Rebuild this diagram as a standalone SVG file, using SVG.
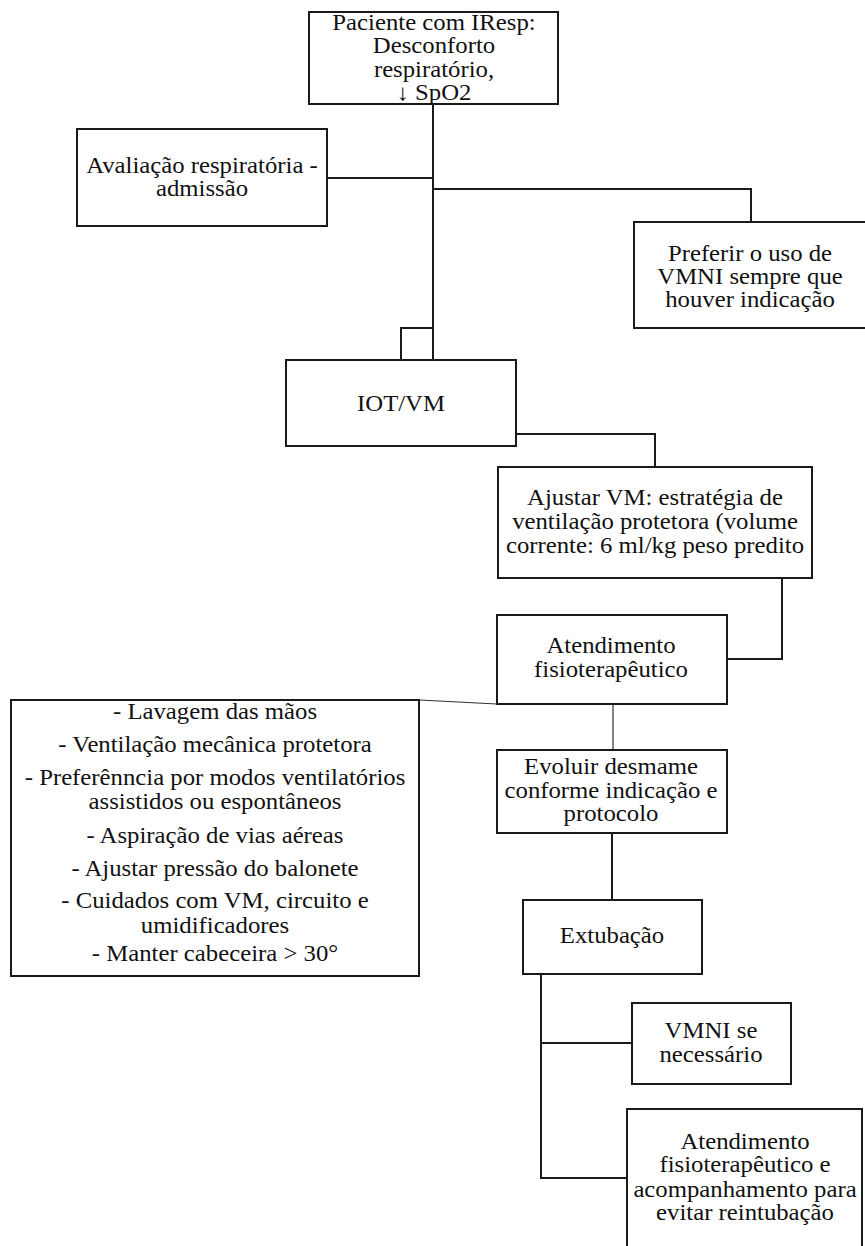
<svg xmlns="http://www.w3.org/2000/svg" width="865" height="1246" viewBox="0 0 865 1246">
<style>
.box{fill:#fff;stroke:#1a1a1a;stroke-width:2}
.ln{fill:none;stroke:#1a1a1a;stroke-width:2}
.thin{fill:none;stroke:#333;stroke-width:1.2}
.t{font-family:'Liberation Serif','Times New Roman',serif;font-size:22.5px;fill:#111;text-anchor:middle}
</style>
<rect width="865" height="1246" fill="#fff"/>
<g id="connectors">
<polyline class="ln" points="433,104 433,360"/>
<polyline class="ln" points="433,328 401,328 401,360"/>
<polyline class="ln" points="327,178 433,178"/>
<polyline class="ln" points="433,189 751,189 751,222"/>
<polyline class="ln" points="516,434 655,434 655,467"/>
<polyline class="ln" points="782,578 782,659 727,659"/>
<line class="thin" x1="419" y1="700" x2="497" y2="704"/>
<line class="thin" x1="613" y1="704" x2="613" y2="750"/>
<line class="ln" x1="612" y1="833" x2="612" y2="900"/>
<polyline class="ln" points="541,974 541,1178 627,1178"/>
<line class="ln" x1="541" y1="1043" x2="632" y2="1043"/>
</g>
<g id="n1">
<rect class="box" x="309" y="12" width="249" height="92"/>
<text class="t" transform="translate(434 0) scale(1.1 1)"><tspan x="0" y="30">Paciente com IResp:</tspan><tspan x="0" y="53">Desconforto</tspan><tspan x="0" y="77">respiratório,</tspan><tspan x="0" y="100">↓ SpO2</tspan></text>
</g>
<g id="n2">
<rect class="box" x="77" y="129" width="250" height="97"/>
<text class="t" transform="translate(202 0) scale(1.1 1)"><tspan x="0" y="173">Avaliação respiratória -</tspan><tspan x="0" y="196">admissão</tspan></text>
</g>
<g id="n3">
<rect class="box" x="634" y="222" width="236" height="106"/>
<text class="t" transform="translate(750 0) scale(1.1 1)"><tspan x="0" y="261">Preferir  o uso de</tspan><tspan x="0" y="284">VMNI sempre que</tspan><tspan x="0" y="307">houver indicação</tspan></text>
</g>
<g id="n4">
<rect class="box" x="286" y="360" width="230" height="86"/>
<text class="t" transform="translate(401 0) scale(1.1 1)"><tspan x="0" y="411">IOT/VM</tspan></text>
</g>
<g id="n5">
<rect class="box" x="498" y="467" width="314" height="111"/>
<text class="t" transform="translate(655 0) scale(1.1 1)"><tspan x="0" y="505">Ajustar VM: estratégia de</tspan><tspan x="0" y="529">ventilação protetora (volume</tspan><tspan x="0" y="553">corrente: 6 ml/kg peso predito</tspan></text>
</g>
<g id="n6">
<rect class="box" x="497" y="615" width="230" height="89"/>
<text class="t" transform="translate(611 0) scale(1.1 1)"><tspan x="0" y="653">Atendimento</tspan><tspan x="0" y="677">fisioterapêutico</tspan></text>
</g>
<g id="n7">
<rect class="box" x="11" y="700" width="408" height="276"/>
<text class="t" transform="translate(215 0) scale(1.1 1)"><tspan x="0" y="719">- Lavagem das mãos</tspan><tspan x="0" y="752">- Ventilação mecânica protetora</tspan><tspan x="0" y="785">- Preferênncia por modos ventilatórios</tspan><tspan x="0" y="809">assistidos ou espontâneos</tspan><tspan x="0" y="843">- Aspiração de vias aéreas</tspan><tspan x="0" y="876">- Ajustar pressão do balonete</tspan><tspan x="0" y="908">- Cuidados com VM, circuito e</tspan><tspan x="0" y="933">umidificadores</tspan><tspan x="0" y="961">- Manter cabeceira &gt; 30°</tspan></text>
</g>
<g id="n8">
<rect class="box" x="497" y="750" width="230" height="83"/>
<text class="t" transform="translate(611 0) scale(1.1 1)"><tspan x="0" y="774">Evoluir desmame</tspan><tspan x="0" y="798">conforme indicação e</tspan><tspan x="0" y="821">protocolo</tspan></text>
</g>
<g id="n9">
<rect class="box" x="523" y="900" width="179" height="74"/>
<text class="t" transform="translate(612 0) scale(1.1 1)"><tspan x="0" y="943">Extubação</tspan></text>
</g>
<g id="n10">
<rect class="box" x="632" y="1003" width="159" height="81"/>
<text class="t" transform="translate(711 0) scale(1.1 1)"><tspan x="0" y="1038">VMNI se</tspan><tspan x="0" y="1062">necessário</tspan></text>
</g>
<g id="n11">
<rect class="box" x="627" y="1109" width="235" height="160"/>
<text class="t" transform="translate(745 0) scale(1.1 1)"><tspan x="0" y="1149">Atendimento</tspan><tspan x="0" y="1172">fisioterapêutico e</tspan><tspan x="0" y="1197">acompanhamento para</tspan><tspan x="0" y="1220">evitar reintubação</tspan></text>
</g>
</svg>
